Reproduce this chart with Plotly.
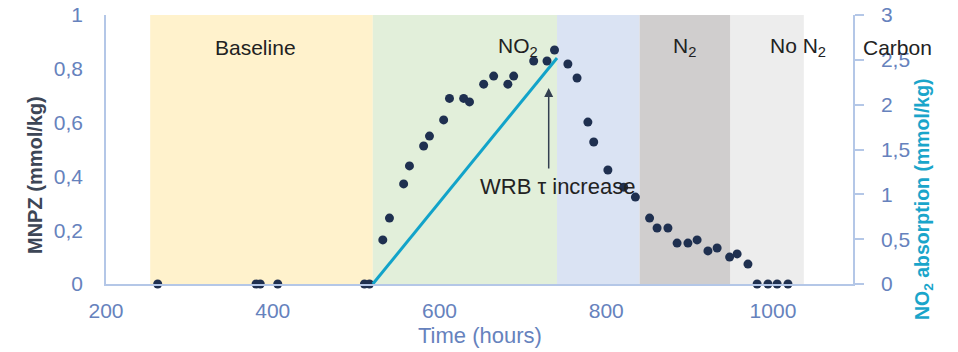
import plotly.graph_objects as go

# Phase shading (hours) and labels
phase_start = [253, 520, 741, 840, 949]
phase_end = [520, 741, 840, 949, 1037]
phase_colors = ["#FFF2CC", "#E2EFDA", "#DAE3F3", "#D0CECE", "#EDEDED"]
phase_labels = ["Baseline", "NO<sub>2</sub>", "N<sub>2</sub>", "No N<sub>2</sub>"]
phase_label_x = [379, 694, 894, 1030]
carbon_label = "Carbon"

# MNPZ measurements
time_h = [262, 380, 385, 406, 510, 516, 532, 540, 557, 564, 581, 588, 605, 612,
          629, 636, 653, 665, 682, 689, 713, 729, 738, 754, 765, 778, 785, 802,
          821, 835, 852, 861, 874, 885, 898, 909, 922, 933, 948, 957, 970, 981,
          994, 1005, 1018]
mnpz = [0, 0, 0, 0, 0, 0, 0.164, 0.245, 0.372, 0.439, 0.513, 0.55, 0.61, 0.69,
        0.69, 0.677, 0.743, 0.773, 0.743, 0.773, 0.829, 0.829, 0.87, 0.818, 0.766,
        0.602, 0.528, 0.424, 0.36, 0.323, 0.245, 0.208, 0.208, 0.152, 0.152, 0.164,
        0.123, 0.134, 0.100, 0.112, 0.074, 0, 0, 0, 0]

# NO2 absorption
no2_time = [520, 741]
no2_abs = [0, 2.52]

FONT = "Liberation Sans, Arial, sans-serif"
TICK_COLOR = "#6682BD"
LINE_COLOR = "#B4C7E7"

# page body has an 8px margin; plot area in page pixels: x 106..853, y 15..284
BODY = 8
PX_L, PX_R, PX_T, PX_B = 106, 853, 15, 284
W, H = 958 - BODY, 352 - BODY
L = PX_L - BODY
T = PX_T - BODY
R = W - (PX_R - BODY)
B = H - (PX_B - BODY)


def px_to_paper(px, py):
    return (px - PX_L) / (PX_R - PX_L), (PX_B - py) / (PX_B - PX_T)


fig = go.Figure()

shapes = []
for x0, x1, c in zip(phase_start, phase_end, phase_colors):
    shapes.append(dict(type="rect", xref="x", yref="paper", x0=x0, x1=x1, y0=0, y1=1,
                       fillcolor=c, line=dict(width=0), layer="below"))

fig.add_trace(go.Scatter(x=no2_time, y=no2_abs, mode="lines", yaxis="y2",
                         line=dict(color="#12A3C9", width=3), cliponaxis=False,
                         hoverinfo="skip"))
fig.add_trace(go.Scatter(x=time_h, y=mnpz, mode="markers",
                         marker=dict(color="#1F3050", size=9), cliponaxis=False))

annotations = []
for lbl, lx in zip(phase_labels, phase_label_x):
    annotations.append(dict(x=lx, y=px_to_paper(0, 47)[1], xref="x", yref="paper", text=lbl,
                            showarrow=False, xanchor="center", yanchor="middle",
                            font=dict(family=FONT, size=21, color="#222222")))
cx, cy = px_to_paper(897, 47)
annotations.append(dict(x=cx, y=cy, xref="paper", yref="paper", text=carbon_label,
                        showarrow=False, xanchor="center", yanchor="middle",
                        font=dict(family=FONT, size=21, color="#222222")))

# arrow and label
annotations.append(dict(x=731, y=0.729, xref="x", yref="y", text="", showarrow=True,
                        ax=0, ay=82, arrowhead=2, arrowsize=1.2, arrowwidth=1.5,
                        arrowcolor="#333F50"))
annotations.append(dict(x=742, y=0.364, xref="x", yref="y", text="WRB τ increase",
                        showarrow=False, xanchor="center", yanchor="middle",
                        font=dict(family=FONT, size=22, color="#222222")))

# axis titles
lx_, ly_ = px_to_paper(35, 175)
annotations.append(dict(x=lx_, y=ly_, xref="paper", yref="paper", text="<b>MNPZ (mmol/kg)</b>",
                        showarrow=False, textangle=-90, xanchor="center", yanchor="middle",
                        font=dict(family=FONT, size=20, color="#3D4656")))
rx_, ry_ = px_to_paper(923, 199)
annotations.append(dict(x=rx_, y=ry_, xref="paper", yref="paper",
                        text="<b>NO<sub>2</sub> absorption (mmol/kg)</b>", showarrow=False,
                        textangle=-90, xanchor="center", yanchor="middle",
                        font=dict(family=FONT, size=19.5, color="#1AA5CA")))
tx_, ty_ = px_to_paper(480, 335)
annotations.append(dict(x=tx_, y=ty_, xref="paper", yref="paper", text="Time (hours)",
                        showarrow=False, xanchor="center", yanchor="middle",
                        font=dict(family=FONT, size=22, color=TICK_COLOR)))

fig.update_layout(
    width=W, height=H,
    margin=dict(l=L, r=R, t=T, b=B, pad=0, autoexpand=False),
    paper_bgcolor="white", plot_bgcolor="white",
    separators=", ",
    showlegend=False,
    shapes=shapes,
    annotations=annotations,
    font=dict(family=FONT, size=21, color=TICK_COLOR),
    xaxis=dict(range=[200, 1096], dtick=200, tick0=200, showgrid=False, zeroline=False,
               showline=True, linecolor=LINE_COLOR, linewidth=1.5, ticks="", automargin=False,
               ticklabeloverflow="allow",
               tickfont=dict(family=FONT, size=21, color=TICK_COLOR), ticklabelstandoff=7),
    yaxis=dict(range=[0, 1.0001], tickvals=[0, 0.2, 0.4, 0.6, 0.8, 1], showgrid=False,
               zeroline=False, showline=True, linecolor=LINE_COLOR, linewidth=1.5, ticks="",
               automargin=False, ticklabeloverflow="allow",
               tickfont=dict(family=FONT, size=21, color=TICK_COLOR), ticklabelstandoff=17),
    yaxis2=dict(range=[0, 3.0003], tickvals=[0, 0.5, 1, 1.5, 2, 2.5, 3], overlaying="y",
                side="right", showgrid=False, ticklabeloverflow="allow",
                zeroline=False, showline=True, linecolor=LINE_COLOR, linewidth=1.5,
                ticks="outside", ticklen=9, tickcolor=LINE_COLOR, tickwidth=1.5, automargin=False,
                tickfont=dict(family=FONT, size=21, color=TICK_COLOR), ticklabelstandoff=13),
)

fig.write_html("out.html")
